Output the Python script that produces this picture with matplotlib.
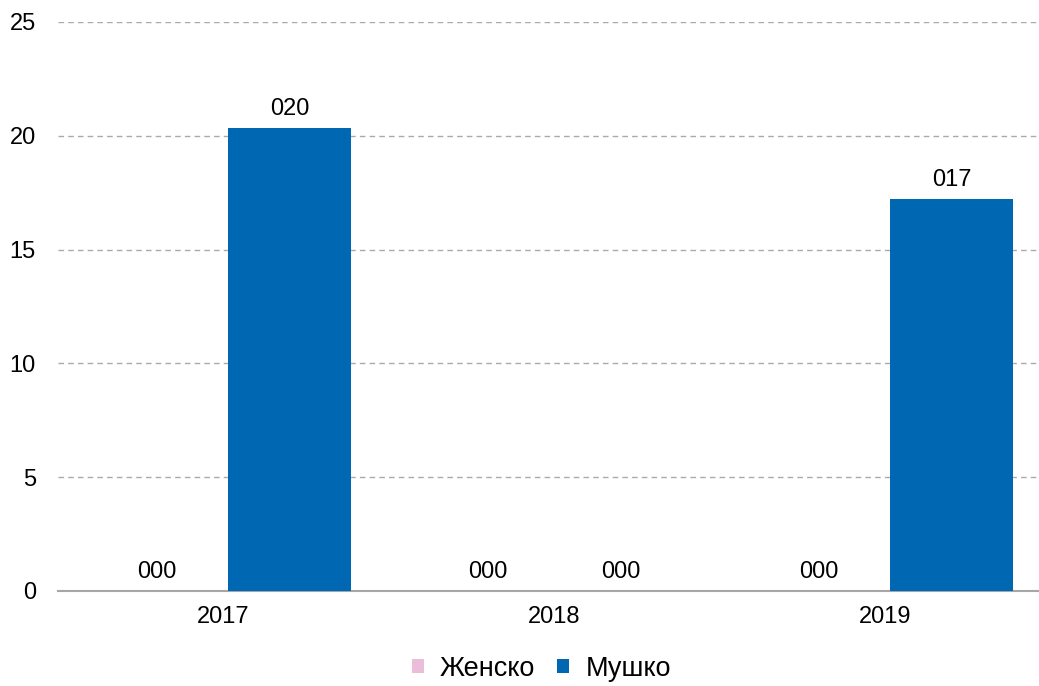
import numpy as np
import matplotlib.pyplot as plt

plt.rcParams['font.family'] = ['Liberation Sans', 'DejaVu Sans']

years = ['2017', '2018', '2019']
zensko = [0, 0, 0]
musko = [20.34, 0, 17.2]

fig = plt.figure(figsize=(10.39, 6.86), dpi=100)
# x axis runs a bit past the right edge of the figure, as in the original
ax = fig.add_axes([0.0558, 0.1385, 0.9557, 0.8295])

x = np.arange(len(years))
w = 0.37
b1 = ax.bar(x - 0.2, zensko, w, color='#EBBDDA', label='Женско', zorder=3)
b2 = ax.bar(x + 0.2, musko, w, color='#0068B3', label='Мушко', zorder=3)

for bars, vals in ((b1, zensko), (b2, musko)):
    for r, v in zip(bars, vals):
        ax.annotate('%03d' % int(v), (r.get_x() + r.get_width() / 2, v),
                    xytext=(0, 6), textcoords='offset points',
                    ha='center', va='bottom', fontsize=17, color='#000000')

ax.set_xlim(-0.5, 2.5)
ax.set_ylim(0, 25)
ax.set_yticks(range(0, 26, 5))
ax.set_xticks(x)
ax.set_xticklabels(years)
ax.tick_params(axis='both', length=0, labelsize=17, colors='#000000')
ax.tick_params(axis='y', pad=16)
ax.tick_params(axis='x', pad=11)
ax.yaxis.grid(True, linestyle=(0, (4, 3)), color='#AAAAAA', linewidth=1, zorder=0)
for s in ['top', 'right', 'left']:
    ax.spines[s].set_visible(False)
ax.spines['bottom'].set_color('#A6A6A6')
ax.spines['bottom'].set_linewidth(1.5)

fig.legend(loc='center', bbox_to_anchor=(0.521, 0.025), ncol=2, frameon=False,
           fontsize=19.5, handlelength=0.45, handleheight=0.45, handletextpad=0.6,
           columnspacing=0.8)

fig.savefig('out.png', dpi=100)
